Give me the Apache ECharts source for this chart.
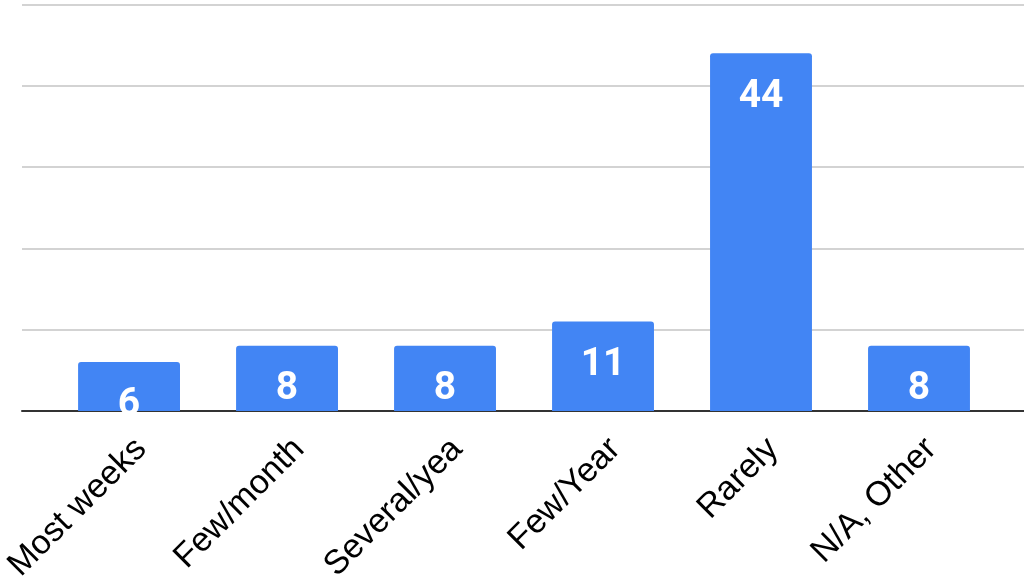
<!DOCTYPE html>
<html>
<head>
<meta charset="utf-8">
<script src="https://cdn.jsdelivr.net/npm/echarts@6/dist/echarts.min.js"></script>
<style>html,body{margin:0;padding:0;background:#fff;}#c{width:1024px;height:585px;}</style>
</head>
<body>
<div id="c"></div>
<script>
const categories = ['Most weeks', 'Few/month', 'Several/yea', 'Few/Year', 'Rarely', 'N/A, Other'];
const values = [6, 8, 8, 11, 44, 8];
const yMin = 0, yMax = 50, yStep = 10;

const chart = echarts.init(document.getElementById('c'));
chart.setOption({
  animation: false,
  grid: [
    { left: 50, right: 26, top: 4.5, bottom: 174 },
    { left: 22, right: 0, top: 4.5, bottom: 174 }
  ],
  xAxis: [
    {
      type: 'category', gridIndex: 0, data: categories,
      axisLine: { show: false }, axisTick: { show: false },
      axisLabel: {
        rotate: 45, margin: 21, fontSize: 34, color: '#000',
        verticalAlign: 'top',
        fontFamily: 'Liberation Sans, Arial, sans-serif', interval: 0
      }
    },
    {
      type: 'value', gridIndex: 1, min: 0, max: 1,
      axisLine: { show: true, onZero: false, lineStyle: { color: '#333', width: 2 } },
      axisTick: { show: false }, axisLabel: { show: false }, splitLine: { show: false }
    }
  ],
  yAxis: [
    {
      type: 'value', gridIndex: 0, min: yMin, max: yMax, interval: yStep,
      axisLine: { show: false }, axisTick: { show: false }, axisLabel: { show: false },
      splitLine: { show: false }
    },
    {
      type: 'value', gridIndex: 1, min: yMin, max: yMax, interval: yStep,
      axisLine: { show: false }, axisTick: { show: false }, axisLabel: { show: false },
      splitLine: { show: true, lineStyle: { color: '#d3d3d3', width: 2 } }
    }
  ],
  series: [{
    type: 'bar', xAxisIndex: 0, yAxisIndex: 0, data: values,
    barCategoryGap: '35.5%',
    itemStyle: { color: '#4285F4', borderRadius: [3, 3, 0, 0] },
    label: {
      show: true, position: 'insideTop', distance: 24,
      color: '#fff', fontSize: 39, fontWeight: 'bold',
      fontFamily: 'Roboto, sans-serif'
    }
  }]
});
</script>
</body>
</html>
